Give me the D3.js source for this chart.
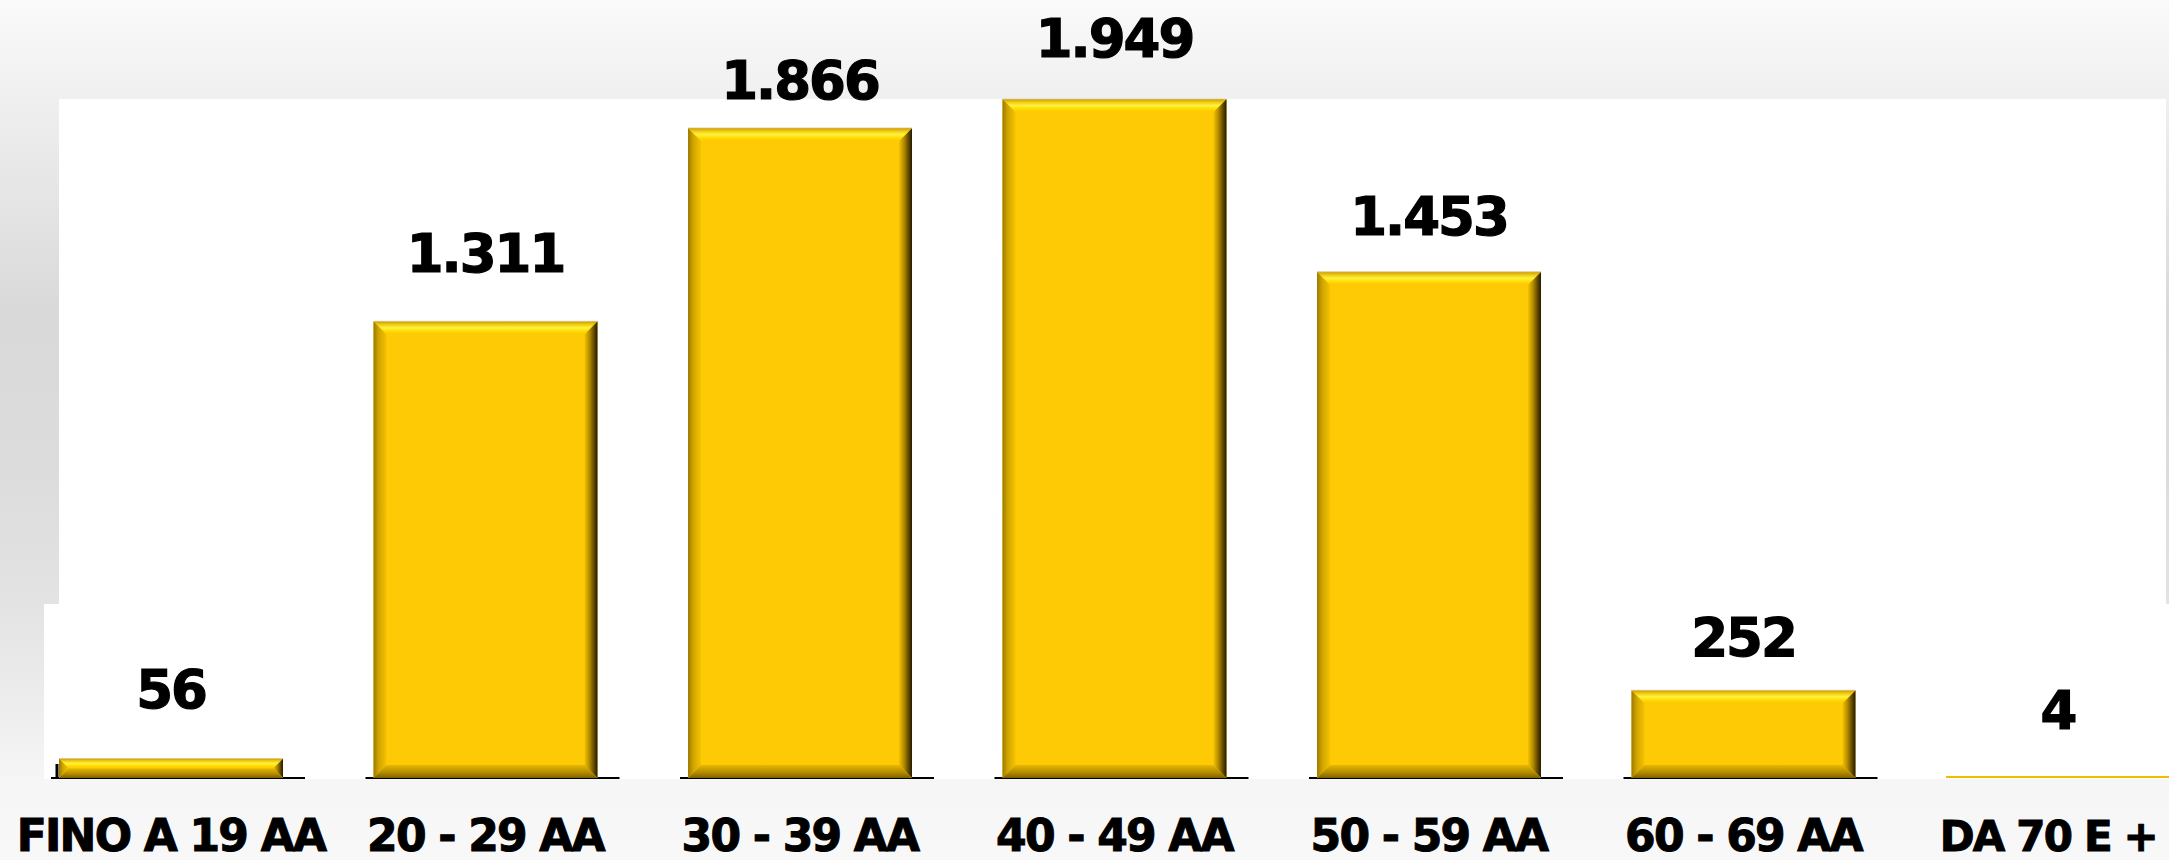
<!DOCTYPE html>
<html>
<head>
<meta charset="utf-8">
<script src="https://cdn.jsdelivr.net/npm/d3@7/dist/d3.min.js"></script>
<style>
  html, body { margin: 0; padding: 0; overflow: hidden; background: #f7f7f7; }
  svg { display: block; }
</style>
</head>
<body>
<svg id="chart" width="2169" height="860"></svg>
<script>
// ---- data ----
const categories = ["FINO A 19 AA", "20 - 29 AA", "30 - 39 AA", "40 - 49 AA", "50 - 59 AA", "60 - 69 AA", "DA 70 E +"];
const values = [56, 1311, 1866, 1949, 1453, 252, 4];
const valueLabels = ["56", "1.311", "1.866", "1.949", "1.453", "252", "4"];

// ---- layout (not data) ----
const W = 2169, H = 860;
const labelGap = [50, 49, 29, 42, 37, 34, 48];   // distance of value label baseline above bar top

const svg = d3.select("#chart");
const defs = svg.append("defs");

// background gradient
const bg = defs.append("linearGradient").attr("id", "bg").attr("x1", 0).attr("y1", 0).attr("x2", 0).attr("y2", 1);
[[0, "#fafafa"], [0.12, "#efefef"], [0.36, "#d9d9d9"], [0.55, "#dcdcdc"], [0.70, "#e3e3e3"], [0.82, "#ededed"], [0.91, "#f6f6f6"], [1, "#f8f8f8"]]
  .forEach(([o, c]) => bg.append("stop").attr("offset", o).attr("stop-color", c));
svg.append("rect").attr("width", W).attr("height", H).attr("fill", "url(#bg)");

// scales
const x = d3.scaleBand().domain(categories).range([59, 2170]).paddingInner(0.2877).paddingOuter(0);
const y = d3.scaleLinear().domain([0, d3.max(values)]).range([778, 99]);

// white plot panels
const plotTop = y(d3.max(values));
const base = y(0);
svg.append("rect").attr("x", x.range()[0]).attr("y", plotTop).attr("width", 2166 - x.range()[0]).attr("height", 604 - plotTop).attr("fill", "#ffffff");
svg.append("rect").attr("x", 44).attr("y", 604).attr("width", W - 44).attr("height", base + 1 - 604).attr("fill", "#ffffff");

// bevel gradients
function grad(id, vertical, stops) {
  const g = defs.append("linearGradient").attr("id", id)
    .attr("x1", 0).attr("y1", 0).attr("x2", vertical ? 0 : 1).attr("y2", vertical ? 1 : 0);
  stops.forEach(([o, c]) => g.append("stop").attr("offset", o).attr("stop-color", c));
}
grad("gTop", true, [[0, "#c99a00"], [0.25, "#f0cc10"], [0.5, "#fff23c"], [0.8, "#ffd800"], [1, "#fcc800"]]);
grad("gLeft", false, [[0, "#9c7a00"], [0.4, "#d0a400"], [1, "#f5c300"]]);
grad("gRight", false, [[0, "#f3c200"], [0.4, "#b08800"], [0.75, "#5c4500"], [1, "#241b00"]]);
grad("gBot", true, [[0, "#e8b800"], [0.6, "#b08900"], [1, "#7c6000"]]);

// baseline segments + left tick
const axisG = svg.append("g");
categories.slice(0, categories.length - 1).forEach(c => {
  axisG.append("line")
    .attr("x1", x(c) - 8).attr("x2", x(c) + x.bandwidth() + 22)
    .attr("y1", base).attr("y2", base)
    .attr("stroke", "#000").attr("stroke-width", 2);
});
axisG.append("line")
  .attr("x1", x.range()[0] - 2).attr("x2", x.range()[0] - 2)
  .attr("y1", base - 14).attr("y2", base)
  .attr("stroke", "#000").attr("stroke-width", 3);

// bars
const bars = svg.append("g").selectAll("g.bar").data(values).join("g").attr("class", "bar");
bars.each(function (v, i) {
  const g = d3.select(this);
  const bx = x(categories[i]);
  const bw = x.bandwidth();
  const by = y(v);
  const bh = Math.max(2, base - by);
  const top = base - bh;
  const b = Math.min(13, bh / 2);
  g.append("rect").attr("x", bx).attr("y", top).attr("width", bw).attr("height", bh).attr("fill", "#fdca05");
  if (bh > 4) {
    const p = pts => pts.map(q => q.join(",")).join(" ");
    g.append("polygon").attr("points", p([[bx, top], [bx + b, top + b], [bx + b, top + bh - b], [bx, top + bh]])).attr("fill", "url(#gLeft)");
    g.append("polygon").attr("points", p([[bx + bw, top], [bx + bw, top + bh], [bx + bw - b, top + bh - b], [bx + bw - b, top + b]])).attr("fill", "url(#gRight)");
    g.append("polygon").attr("points", p([[bx, top + bh], [bx + bw, top + bh], [bx + bw - b, top + bh - b], [bx + b, top + bh - b]])).attr("fill", "url(#gBot)");
    g.append("polygon").attr("points", p([[bx, top], [bx + bw, top], [bx + bw - b, top + b], [bx + b, top + b]])).attr("fill", "url(#gTop)");
    g.append("line").attr("x1", bx).attr("x2", bx + bw).attr("y1", top).attr("y2", top)
      .attr("stroke", "#d8cfc0").attr("stroke-width", 1).attr("opacity", 0.7);
  } else {
    g.select("rect").attr("fill", "#f2bd00");
  }
});

// value labels
svg.append("g").selectAll("text").data(values).join("text")
  .attr("x", (d, i) => x(categories[i]) + x.bandwidth() / 2)
  .attr("y", (d, i) => y(d) - labelGap[i])
  .attr("text-anchor", "middle")
  .attr("font-family", "DejaVu Sans, sans-serif")
  .attr("font-weight", "bold")
  .attr("font-size", 53)
  .attr("letter-spacing", -2)
  .attr("fill", "#000").attr("stroke", "#000").attr("stroke-width", 1.2)
  .text((d, i) => valueLabels[i]);

// category labels (nudged / shrunk if they would run past the right edge)
const catFont = 44;
svg.append("g").selectAll("text").data(categories).join("text")
  .attr("x", d => x(d) + x.bandwidth() / 2)
  .attr("y", 851)
  .attr("text-anchor", "middle")
  .attr("font-family", "DejaVu Sans, sans-serif")
  .attr("font-weight", "bold")
  .attr("font-size", catFont)
  .attr("letter-spacing", -1.8)
  .attr("fill", "#000").attr("stroke", "#000").attr("stroke-width", 1)
  .text(d => d)
  .each(function (d) {
    const sel = d3.select(this);
    const cx = x(d) + x.bandwidth() / 2;
    const margin = 12;
    let len = this.getBBox().width;
    if (cx + len / 2 > W - margin) {
      // shrink font until (with a small leftward nudge) it fits
      let fs = catFont;
      while (fs > 30 && (Math.max(cx - 12, 0) + len / 2 > W - margin)) {
        fs -= 1;
        sel.attr("font-size", fs);
        len = this.getBBox().width;
      }
      const nx = Math.min(cx, W - margin - len / 2);
      sel.attr("x", nx);
    }
  });
</script>
</body>
</html>
